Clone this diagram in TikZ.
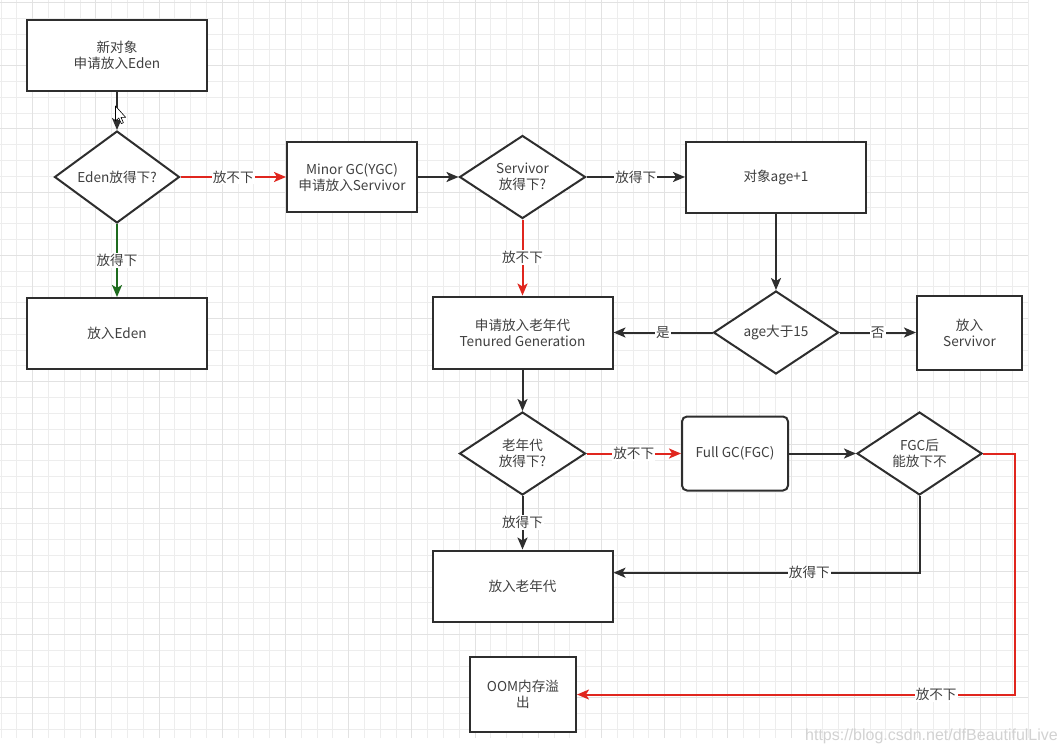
\documentclass[tikz,border=0pt]{standalone}
\usepackage{fontspec}
\setmainfont{Noto Sans CJK SC}
\newfontfamily\wmfont{Liberation Sans}
\usetikzlibrary{arrows.meta,shapes.geometric}
\definecolor{txt}{HTML}{404040}
\definecolor{edgec}{HTML}{2E2E2E}
\definecolor{redl}{HTML}{E0261E}
\definecolor{greenl}{HTML}{1E6B1E}
\definecolor{gminor}{HTML}{EDEDED}
\definecolor{gmajor}{HTML}{E2E2E2}
\definecolor{wmark}{HTML}{D2D2D2}
\tikzset{
  box/.style={draw=edgec, line width=2pt, fill=white, align=center, inner sep=2pt, text=txt},
  dia/.style={diamond, draw=edgec, line width=2pt, fill=white, align=center, inner sep=0pt, text=txt},
  arr/.style={draw=edgec, line width=2pt, -{Stealth[length=12pt,width=10pt,inset=3pt]}},
  redarr/.style={arr, draw=redl},
  greenarr/.style={arr, draw=greenl},
  lbl/.style={fill=white, inner sep=1pt, text=txt},
  gridminor/.style={draw=gminor, line width=1pt},
  gridmajor/.style={draw=gmajor, line width=1pt},
}
\begin{document}
\begin{tikzpicture}[x=1pt, y=-1pt, font=\fontsize{13.6}{16}\selectfont]
\useasboundingbox (0,0) rectangle (1060,753);
\fill[white] (0,0) rectangle (1060,753);
% grid
\foreach \i in {0,...,65} { \draw[gridminor] ({1+15.8*\i},0) -- ({1+15.8*\i},738); }
\foreach \k in {0,...,46} { \draw[gridminor] (0,{2.5+15.8*\k}) -- (1028,{2.5+15.8*\k}); }
\foreach \i in {0,...,15} { \draw[gridmajor] ({1+15.8*(2+4*\i)},0) -- ({1+15.8*(2+4*\i)},738); }
\foreach \k in {0,...,11} { \draw[gridmajor] (0,{2.5+15.8*4*\k}) -- (1028,{2.5+15.8*4*\k}); }

% nodes
\node[box, minimum width=180pt, minimum height=71pt] (n1) at (117,55.5) {新对象\\申请放入Eden};
\node[dia, minimum width=125pt, minimum height=84pt] (d1) at (117,177) {Eden放得下?};
\node[box, minimum width=180pt, minimum height=71pt] (eden) at (117,333.5) {放入Eden};
\node[box, minimum width=130pt, minimum height=70pt] (minor) at (352,177) {Minor GC(YGC)\\申请放入Servivor};
\node[dia, minimum width=126pt, minimum height=83pt] (d2) at (522.5,177) {Servivor\\放得下?};
\node[box, minimum width=180pt, minimum height=71pt] (age1) at (776,177) {对象age+1};
\node[dia, minimum width=125pt, minimum height=83pt] (d3) at (776,332.5) {age大于15};
\node[box, minimum width=105pt, minimum height=74pt] (surv) at (969.5,332.5) {放入\\Servivor};
\node[box, minimum width=180pt, minimum height=72pt] (ten) at (522.5,332.5) {申请放入老年代\\Tenured Generation};
\node[dia, minimum width=126pt, minimum height=83pt] (d4) at (522.5,453.5) {老年代\\放得下?};
\node[box, rounded corners=5pt, minimum width=106pt, minimum height=74pt] (full) at (735,453.5) {Full GC(FGC)};
\node[dia, minimum width=125pt, minimum height=83pt] (d5) at (919.5,453.5) {FGC后\\能放下不};
\node[box, minimum width=180pt, minimum height=71pt] (old) at (522.5,586) {放入老年代};
\node[box, minimum width=106pt, minimum height=75pt] (oom) at (523,694.5) {OOM内存溢\\出};

% connectors
\draw[arr] (n1) -- (d1);
\draw[redarr] (d1.east) -- node[lbl]{放不下} (minor.west);
\draw[greenarr] (d1.south) -- node[lbl]{放得下} (eden.north);
\draw[arr] (minor.east) -- (d2.west);
\draw[arr] (d2.east) -- node[lbl]{放得下} (age1.west);
\draw[redarr] (d2.south) -- node[lbl]{放不下} (ten.north);
\draw[arr] (age1.south) -- (d3.north);
\draw[arr] (d3.west) -- node[lbl]{是} (ten.east);
\draw[arr] (d3.east) -- node[lbl]{否} (surv.west);
\draw[arr] (ten.south) -- (d4.north);
\draw[redarr] (d4.east) -- node[lbl]{放不下} (full.west);
\draw[arr] (d4.south) -- node[lbl]{放得下} (old.north);
\draw[arr] (full.east) -- (d5.west);
\draw[arr] (d5.south) |- node[lbl, pos=0.68]{放得下} ([yshift=13.3pt]old.east);
\draw[redarr] (d5.east) -- ++(32,0) |- node[lbl, pos=0.59]{放不下} (oom.east);

% mouse cursor (screen capture)
\draw[line width=0.6pt, fill=white, draw=black, line join=round]
  (115.5,106) -- (115.5,121) -- (118.8,118) -- (121.3,123.6) -- (123.4,122.7) -- (121,117.3) -- (125.6,117.3) -- cycle;

% watermark
\node[text=wmark, font=\wmfont\fontsize{16}{18}\selectfont, anchor=east, inner sep=0pt] (wm) at (1058,736) {https://blog.csdn.net/dfBeautifulLive};
\end{tikzpicture}
\end{document}
